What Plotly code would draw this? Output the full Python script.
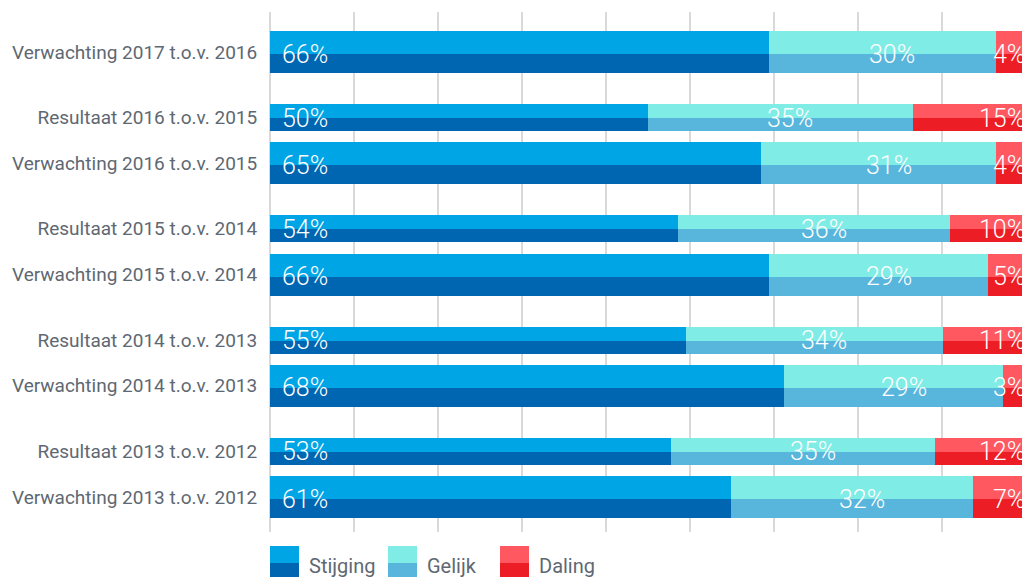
import plotly.graph_objects as go

# ---------------- data ----------------
categories = [
    "Verwachting 2017 t.o.v. 2016",
    "Resultaat 2016 t.o.v. 2015",
    "Verwachting 2016 t.o.v. 2015",
    "Resultaat 2015 t.o.v. 2014",
    "Verwachting 2015 t.o.v. 2014",
    "Resultaat 2014 t.o.v. 2013",
    "Verwachting 2014 t.o.v. 2013",
    "Resultaat 2013 t.o.v. 2012",
    "Verwachting 2013 t.o.v. 2012",
]
stijging = [66, 50, 65, 54, 66, 55, 68, 53, 61]
gelijk = [30, 35, 31, 36, 29, 34, 29, 35, 32]
daling = [4, 15, 4, 10, 5, 11, 3, 12, 7]
series_names = ["Stijging", "Gelijk", "Daling"]

# ---------------- styling / layout ----------------
light_colors = ["#00A5E5", "#80ECE6", "#FF5861"]
dark_colors = ["#0066B2", "#58B6DC", "#ED1D25"]
TEXT_GRAY = "#5E6872"
FONT = "Roboto"

W, H = 1022, 579
ML, MR, MT, MB = 270, 0, 12, 47
PLOT_W = W - ML - MR
PLOT_H = H - MT - MB
FULL_W = 756  # pixel width that 100% would span
XMAX = 100 * PLOT_W / FULL_W

GROUP_PITCH = 111.25
FIRST_CENTER = 40
RES_OFFSET = 45.75
HEIGHTS = {"Verwachting": (23, 19), "Resultaat": (14, 13)}

centers, light_h, dark_h = [], [], []
for cat in categories:
    kind = cat.split()[0]
    year = int(cat.split()[1])
    g = 2017 - year
    c = FIRST_CENTER + GROUP_PITCH * g
    if kind == "Resultaat":
        c -= RES_OFFSET
    lh, dh = HEIGHTS[kind]
    centers.append(c)
    light_h.append(lh)
    dark_h.append(dh)

tops = [c - (lh + dh) / 2 for c, lh, dh in zip(centers, light_h, dark_h)]
splits = [t + lh for t, lh in zip(tops, light_h)]
light_y = [t + lh / 2 for t, lh in zip(tops, light_h)]
dark_y = [s + dh / 2 for s, dh in zip(splits, dark_h)]

values = [stijging, gelijk, daling]
bases = []
cum = [0] * len(categories)
for vals in values:
    bases.append(list(cum))
    cum = [a + b for a, b in zip(cum, vals)]

fig = go.Figure()
for i, name in enumerate(series_names):
    fig.add_trace(go.Bar(
        orientation="h", x=values[i], base=bases[i], y=light_y, width=light_h,
        marker=dict(color=light_colors[i], line=dict(width=0)),
        name=name, showlegend=False, hoverinfo="skip",
    ))
    fig.add_trace(go.Bar(
        orientation="h", x=values[i], base=bases[i], y=dark_y, width=dark_h,
        marker=dict(color=dark_colors[i], line=dict(width=0)),
        name=name, showlegend=False, hoverinfo="skip",
    ))

annotations = []
LABEL_FONT = dict(family=FONT, size=25, color="white", weight=300)
for j in range(len(categories)):
    # Stijging: left aligned near start
    annotations.append(dict(
        x=bases[0][j], y=splits[j], xref="x", yref="y", text=f"{stijging[j]}%",
        showarrow=False, xanchor="left", yanchor="middle", xshift=10, yshift=0,
        font=LABEL_FONT,
    ))
    # Gelijk: centred in segment
    annotations.append(dict(
        x=bases[1][j] + gelijk[j] / 2, y=splits[j], xref="x", yref="y",
        text=f"{gelijk[j]}%", showarrow=False, xanchor="center", yanchor="middle",
        xshift=10, yshift=0, font=LABEL_FONT,
    ))
    # Daling: right aligned at bar end (clipped by page, as in the original)
    end = min(bases[2][j] + daling[j], XMAX)
    annotations.append(dict(
        x=end, y=splits[j], xref="x", yref="y", text=f"{daling[j]}%",
        showarrow=False, xanchor="right", yanchor="middle", xshift=5, yshift=0,
        font=LABEL_FONT,
    ))

# custom legend: two-tone swatches
shapes = []
legend_x = [270, 388, 500]
SW_W = 29
SW_TOP, SW_SPLIT, SW_BOT = 546, 563, 577


def px_to_paper_x(px):
    return (px - ML) / PLOT_W


def px_to_paper_y(py):
    return (H - MB - py) / PLOT_H


for i, name in enumerate(series_names):
    x0 = px_to_paper_x(legend_x[i])
    x1 = px_to_paper_x(legend_x[i] + SW_W)
    shapes.append(dict(type="rect", xref="paper", yref="paper", x0=x0, x1=x1,
                       y0=px_to_paper_y(SW_SPLIT), y1=px_to_paper_y(SW_TOP),
                       fillcolor=light_colors[i], line=dict(width=0)))
    shapes.append(dict(type="rect", xref="paper", yref="paper", x0=x0, x1=x1,
                       y0=px_to_paper_y(SW_BOT), y1=px_to_paper_y(SW_SPLIT),
                       fillcolor=dark_colors[i], line=dict(width=0)))
    annotations.append(dict(
        x=px_to_paper_x(legend_x[i] + SW_W + 8), y=px_to_paper_y(566),
        xref="paper", yref="paper", text=name, showarrow=False,
        xanchor="left", yanchor="middle",
        font=dict(family=FONT, size=20, color=TEXT_GRAY),
    ))

fig.update_layout(
    width=W, height=H,
    margin=dict(l=ML, r=MR, t=MT, b=MB, pad=0),
    barmode="overlay", bargap=0,
    plot_bgcolor="white", paper_bgcolor="white",
    showlegend=False,
    annotations=annotations, shapes=shapes,
    xaxis=dict(
        range=[0, XMAX], tick0=0, dtick=100 / 9, showticklabels=False,
        showgrid=True, gridcolor="#D9D9D9", gridwidth=2,
        zeroline=True, zerolinecolor="#D9D9D9", zerolinewidth=2,
        showline=False, fixedrange=True,
    ),
    yaxis=dict(
        range=[PLOT_H, 0], tickmode="array", tickvals=centers, ticktext=categories,
        showgrid=False, zeroline=False, showline=False,
        ticks="outside", ticklen=8, tickcolor="rgba(0,0,0,0)",
        tickfont=dict(family=FONT, size=19, color=TEXT_GRAY),
        fixedrange=True,
    ),
    font=dict(family=FONT),
)

fig.write_html(
    "out.html", include_plotlyjs=True, config={"displayModeBar": False},
    post_script="document.body.style.margin='0';document.body.style.overflow='hidden';",
)
